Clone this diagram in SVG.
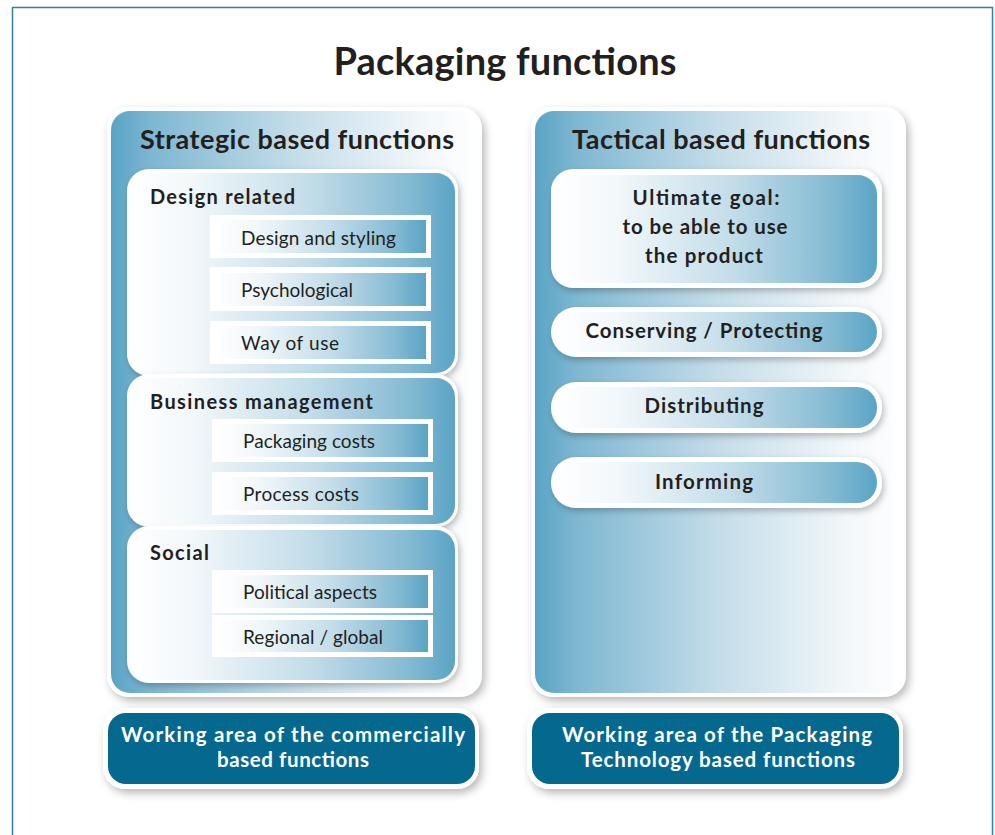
<svg xmlns="http://www.w3.org/2000/svg" width="995" height="835" viewBox="0 0 995 835">
  <defs>
    <!-- panel fill: blue on the left fading to white on the right -->
    <linearGradient id="panelFill" x1="0" y1="0" x2="1" y2="0">
      <stop offset="0" stop-color="#5aa4c5"/>
      <stop offset="0.12" stop-color="#80b8d2"/>
      <stop offset="0.5" stop-color="#c4dde9"/>
      <stop offset="0.85" stop-color="#f2f7fa"/>
      <stop offset="1" stop-color="#ffffff"/>
    </linearGradient>
    <!-- box fill: white on the left fading to blue on the right -->
    <linearGradient id="boxFill" x1="0" y1="0" x2="1" y2="0">
      <stop offset="0" stop-color="#ffffff"/>
      <stop offset="0.2" stop-color="#f1f7fa"/>
      <stop offset="0.55" stop-color="#c3dde9"/>
      <stop offset="0.85" stop-color="#86bbd4"/>
      <stop offset="1" stop-color="#5aa4c5"/>
    </linearGradient>
    <filter id="shadow" x="-10%" y="-10%" width="125%" height="130%">
      <feDropShadow dx="3" dy="4" stdDeviation="4" flood-color="#000" flood-opacity="0.28"/>
    </filter>
    <filter id="shadowSm" x="-10%" y="-20%" width="125%" height="150%">
      <feDropShadow dx="2" dy="3" stdDeviation="3" flood-color="#000" flood-opacity="0.25"/>
    </filter>
  </defs>
  <style>
    text { font-family: Lato, "Open Sans", "Liberation Sans", sans-serif; fill: #231f20; }
    .title { font-size: 38px; font-weight: 700; }
    .head { font-size: 27px; font-weight: 700; }
    .group { font-size: 20px; font-weight: 700; }
    .item { font-size: 19px; font-weight: 400; }
    .tact { font-size: 20.5px; font-weight: 700; }
    .foot { font-size: 20.5px; font-weight: 700; fill: #ffffff; }
    .rim { fill: #ffffff; }
    .panel { fill: url(#panelFill); }
    .box { fill: url(#boxFill); }
    .dark { fill: #05688f; }
  </style>

  <rect width="995" height="835" fill="#ffffff"/>
  <!-- frame -->
  <rect x="12.5" y="7.5" width="980" height="840" fill="none" stroke="#2f7fa6" stroke-width="1.5"/>

  <text class="title" x="505" y="75" text-anchor="middle" textLength="343">Packaging functions</text>

  <!-- left column: strategic -->
  <g id="strategic">
    <rect class="rim" x="107" y="107" width="375" height="590" rx="22" filter="url(#shadow)"/>
    <rect class="panel" x="111" y="111" width="367" height="582" rx="19"/>
    <text class="head" x="297" y="149" text-anchor="middle" textLength="314">Strategic based functions</text>
  </g>

  <g id="design-related">
    <rect class="rim" x="127" y="169" width="331" height="207" rx="22" filter="url(#shadowSm)"/>
    <rect class="box" x="130" y="173" width="325" height="200" rx="19"/>
    <text class="group" x="150" y="204" textLength="145">Design related</text>
  </g>
  <g id="design-styling">
    <rect class="rim" x="210" y="215" width="221" height="43"/>
    <rect class="box" x="214" y="220" width="212" height="33"/>
    <text class="item" x="241" y="245" textLength="155">Design and styling</text>
  </g>
  <g id="psychological">
    <rect class="rim" x="210" y="267" width="221" height="44"/>
    <rect class="box" x="214" y="273" width="212" height="33"/>
    <text class="item" x="241" y="297" textLength="112">Psychological</text>
  </g>
  <g id="way-of-use">
    <rect class="rim" x="210" y="321" width="221" height="43"/>
    <rect class="box" x="214" y="326" width="212" height="33"/>
    <text class="item" x="241" y="350" textLength="98">Way of use</text>
  </g>

  <g id="business-management">
    <rect class="rim" x="127" y="374" width="331" height="153" rx="22" filter="url(#shadowSm)"/>
    <rect class="box" x="130" y="378" width="325" height="146" rx="19"/>
    <text class="group" x="150" y="409" textLength="223">Business management</text>
  </g>
  <g id="packaging-costs">
    <rect class="rim" x="212" y="419" width="221" height="43"/>
    <rect class="box" x="216" y="424" width="212" height="33"/>
    <text class="item" x="243" y="448" textLength="132">Packaging costs</text>
  </g>
  <g id="process-costs">
    <rect class="rim" x="212" y="472" width="221" height="43"/>
    <rect class="box" x="216" y="477" width="212" height="33"/>
    <text class="item" x="243" y="501" textLength="116">Process costs</text>
  </g>

  <g id="social">
    <rect class="rim" x="127" y="526" width="331" height="157" rx="22" filter="url(#shadowSm)"/>
    <rect class="box" x="130" y="530" width="325" height="150" rx="19"/>
    <text class="group" x="150" y="560" textLength="59">Social</text>
  </g>
  <g id="political-aspects">
    <rect class="rim" x="212" y="570" width="221" height="43"/>
    <rect class="box" x="216" y="575" width="212" height="33"/>
    <text class="item" x="243" y="599" textLength="134">Political aspects</text>
  </g>
  <g id="regional-global">
    <rect class="rim" x="212" y="615" width="221" height="42"/>
    <rect class="box" x="216" y="620" width="212" height="32"/>
    <text class="item" x="243" y="644" textLength="140">Regional / global</text>
  </g>

  <!-- right column: tactical -->
  <g id="tactical">
    <rect class="rim" x="531" y="107" width="375" height="590" rx="22" filter="url(#shadow)"/>
    <rect class="panel" x="535" y="111" width="367" height="582" rx="19"/>
    <text class="head" x="721" y="149" text-anchor="middle" textLength="298">Tactical based functions</text>
  </g>

  <g id="ultimate-goal">
    <rect class="rim" x="551" y="169" width="331" height="119" rx="22" filter="url(#shadowSm)"/>
    <rect class="box" x="555" y="175" width="322" height="108" rx="19"/>
    <text class="tact" x="706" y="205" text-anchor="middle" textLength="147">Ultimate goal:</text>
    <text class="tact" x="705" y="234" text-anchor="middle" textLength="165">to be able to use</text>
    <text class="tact" x="704" y="263" text-anchor="middle" textLength="118">the product</text>
  </g>
  <g id="conserving">
    <rect class="rim" x="551" y="307" width="331" height="50" rx="25" filter="url(#shadowSm)"/>
    <rect class="box" x="555" y="312" width="322" height="40" rx="20"/>
    <text class="tact" x="704" y="338" text-anchor="middle" textLength="237">Conserving / Protecting</text>
  </g>
  <g id="distributing">
    <rect class="rim" x="551" y="382" width="331" height="51" rx="25" filter="url(#shadowSm)"/>
    <rect class="box" x="555" y="387" width="322" height="41" rx="20"/>
    <text class="tact" x="704" y="413" text-anchor="middle" textLength="119">Distributing</text>
  </g>
  <g id="informing">
    <rect class="rim" x="551" y="457" width="331" height="51" rx="25" filter="url(#shadowSm)"/>
    <rect class="box" x="555" y="462" width="322" height="41" rx="20"/>
    <text class="tact" x="704" y="489" text-anchor="middle" textLength="98">Informing</text>
  </g>

  <!-- working areas -->
  <g id="commercial-area">
    <rect class="rim" x="103" y="708" width="376" height="81" rx="22" filter="url(#shadow)"/>
    <rect class="dark" x="108" y="713" width="367" height="71" rx="18"/>
    <text class="foot" x="293" y="742" text-anchor="middle" textLength="344">Working area of the commercially</text>
    <text class="foot" x="293" y="767" text-anchor="middle" textLength="152">based functions</text>
  </g>
  <g id="technology-area">
    <rect class="rim" x="527" y="708" width="376" height="81" rx="22" filter="url(#shadow)"/>
    <rect class="dark" x="532" y="713" width="367" height="71" rx="18"/>
    <text class="foot" x="717" y="742" text-anchor="middle" textLength="310">Working area of the Packaging</text>
    <text class="foot" x="718" y="767" text-anchor="middle" textLength="274">Technology based functions</text>
  </g>

  <g id="connectors"></g>
</svg>
